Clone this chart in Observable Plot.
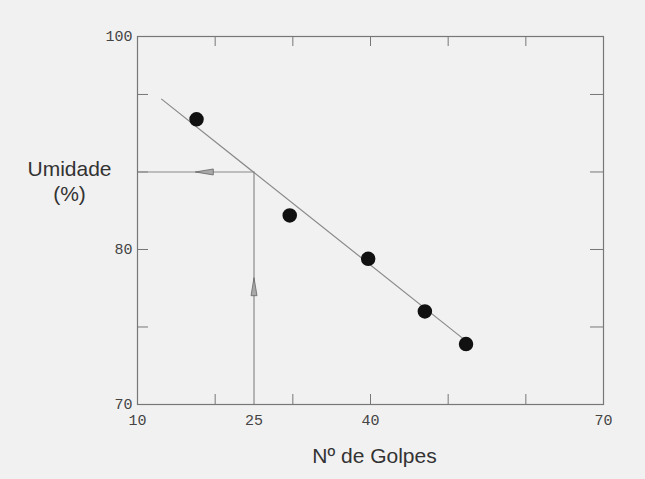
<!DOCTYPE html>
<html>
<head>
<meta charset="utf-8">
<script src="https://cdn.jsdelivr.net/npm/d3@7"></script>
<script src="https://cdn.jsdelivr.net/npm/@observablehq/plot@0.6"></script>
<style>
  html, body { margin: 0; padding: 0; background: #f1f1f1; }
  #chart svg { display: block; background: #f1f1f1; }
</style>
</head>
<body>
<div id="chart"></div>
<script>
// ---- data ----
const golpes  = [17.6, 29.6, 39.7, 47.0, 52.3];     // Nº de golpes
const umidade = [88.4, 82.2, 79.4, 76.0, 73.9];     // umidade (%)

// fitted line end points
const lineX = [13.1, 51.8];
const lineY = [89.7, 74.3];

// liquid-limit construction (25 golpes -> 85 %)
const llGolpes = 25;
const llUmidade = 85;
const arrowLeft = {x: 18.6, y: 85};
const arrowUp = {x: 25, y: 77.6};

// axes
const xDomain = [10, 70];
const yDomain = [70, 93.74];
const xTickMarks = [20, 30, 40, 50, 60];
const yTickMarks = [75, 80, 85, 90];
const xTickLabels = [10, 25, 40, 70];
const yTickValues = [70, 80, 93.74];
const yTickText = ["70", "80", "100"];

const points = golpes.map((g, i) => ({x: g, y: umidade[i]}));
const fitLine = lineX.map((x, i) => ({x, y: lineY[i]}));

const W = 645, H = 479;
const mL = 137, mR = 42, mT = 36, mB = 75;
const fw = W - mL - mR, fh = H - mT - mB;

const arrowSymbol = {
  draw(ctx) {
    ctx.moveTo(0, -9);
    ctx.lineTo(3, 9);
    ctx.lineTo(-3, 9);
    ctx.closePath();
  }
};

const lineColor = "#8a8a8a";
const tickFont = "'Liberation Mono', 'DejaVu Sans Mono', monospace";
const titleFont = "'Liberation Sans', Arial, sans-serif";

const plot = Plot.plot({
  width: W,
  height: H,
  marginLeft: mL,
  marginRight: mR,
  marginTop: mT,
  marginBottom: mB,
  x: {domain: xDomain},
  y: {domain: yDomain},
  style: {background: "#f1f1f1"},
  marks: [
    // inward tick marks
    Plot.ruleX(xTickMarks, {x: d => d, insetTop: fh - 10, stroke: "#777"}),
    Plot.ruleX(xTickMarks, {x: d => d, insetBottom: fh - 10, stroke: "#777"}),
    Plot.ruleY(yTickMarks, {y: d => d, insetRight: fw - 11, stroke: "#777"}),
    Plot.ruleY(yTickMarks, {y: d => d, insetLeft: fw - 13, stroke: "#777"}),
    // tick labels
    Plot.axisX({
      ticks: xTickLabels, tickSize: 0, tickPadding: 10,
      tickFormat: d => String(d),
      fontSize: 15, fontFamily: tickFont, fill: "#444", label: null
    }),
    Plot.axisY({
      ticks: yTickValues, tickSize: 0, tickPadding: 5,
      tickFormat: (d, i) => yTickText[i],
      fontSize: 15, fontFamily: tickFont, fill: "#444", label: null
    }),
    // construction lines
    Plot.line([{x: xDomain[0], y: llUmidade}, {x: llGolpes, y: llUmidade}],
      {x: "x", y: "y", stroke: lineColor, strokeWidth: 1.2}),
    Plot.line([{x: llGolpes, y: yDomain[0]}, {x: llGolpes, y: llUmidade}],
      {x: "x", y: "y", stroke: lineColor, strokeWidth: 1.2}),
    Plot.dot([arrowLeft], {x: "x", y: "y", symbol: arrowSymbol, rotate: -90,
      fill: "#a8a8a8", stroke: "#666", strokeWidth: 0.8}),
    Plot.dot([arrowUp], {x: "x", y: "y", symbol: arrowSymbol, rotate: 0,
      fill: "#a8a8a8", stroke: "#666", strokeWidth: 0.8}),
    // fitted line
    Plot.line(fitLine, {x: "x", y: "y", stroke: lineColor, strokeWidth: 1.2}),
    // data points
    Plot.dot(points, {x: "x", y: "y", r: 6.5, fill: "#111", stroke: "#111"}),
    Plot.frame({stroke: "#777", strokeWidth: 1.2}),
    // axis titles
    Plot.text(["Umidade\n(%)"], {
      frameAnchor: "top-left", dx: -68, dy: 122, lineAnchor: "top",
      lineHeight: 1.19, textAnchor: "middle",
      fontSize: 21, fontFamily: titleFont, fill: "#333"
    }),
    Plot.text(["Nº de Golpes"], {
      frameAnchor: "bottom", dx: 4, dy: 44, lineAnchor: "top",
      textAnchor: "middle",
      fontSize: 21, fontFamily: titleFont, fill: "#333"
    })
  ]
});

document.getElementById("chart").appendChild(plot);
</script>
</body>
</html>
